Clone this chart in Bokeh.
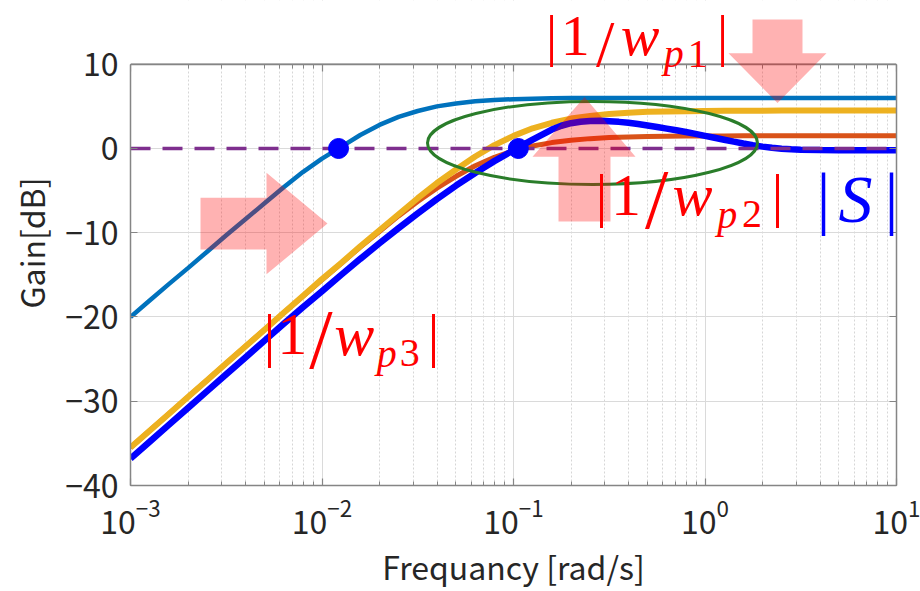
from bokeh.plotting import figure
from bokeh.models import (LogAxis, LinearAxis, LogTicker, FixedTicker, Label,
                          PolyAnnotation, BoxAnnotation, Span)
from bokeh.embed import file_html
from bokeh.resources import INLINE

# ---------------- data ----------------
freq_exp = [-3.0, -2.9, -2.8, -2.7, -2.6, -2.5, -2.4, -2.3, -2.2, -2.1,
            -2.0, -1.9, -1.8, -1.7, -1.6, -1.5, -1.4, -1.3, -1.2, -1.1,
            -1.0, -0.9, -0.8, -0.7, -0.6, -0.5, -0.4, -0.3, -0.2, -0.1,
            0.0, 0.1, 0.2, 0.3, 0.4, 0.5, 0.6, 0.7, 0.8, 0.9, 1.0]
freq = [10 ** e for e in freq_exp]

# |1/w_p1|  (light blue)
wp1_gain = [-20.0, -18.05, -16.1, -14.2, -12.25, -10.3, -8.4, -6.5, -4.6, -2.8,
            -1.2, 0.2, 1.6, 2.8, 3.75, 4.45, 5.0, 5.35, 5.6, 5.75,
            5.85, 5.9, 5.95, 5.98, 5.99, 6.0, 6.0, 6.0, 6.0, 6.0,
            6.0, 6.0, 6.0, 6.0, 6.0, 6.0, 6.0, 6.0, 6.0, 6.0, 6.0]
# |1/w_p2|  (orange)
wp2_gain = [-35.5, -33.5, -31.5, -29.5, -27.5, -25.5, -23.5, -21.5, -19.5, -17.55,
            -15.6, -13.65, -11.7, -9.85, -8.0, -6.3, -4.7, -3.3, -2.05, -1.05,
            -0.25, 0.3, 0.7, 0.98, 1.17, 1.29, 1.36, 1.41, 1.45, 1.47,
            1.48, 1.49, 1.5, 1.5, 1.5, 1.5, 1.5, 1.5, 1.5, 1.5, 1.5]
# |1/w_p3|  (yellow)
wp3_gain = [-35.5, -33.5, -31.5, -29.5, -27.5, -25.5, -23.5, -21.5, -19.5, -17.5,
            -15.5, -13.6, -11.6, -9.7, -7.8, -5.9, -4.1, -2.5, -0.95, 0.4,
            1.5, 2.4, 3.05, 3.55, 3.85, 4.1, 4.25, 4.35, 4.4, 4.43,
            4.46, 4.47, 4.48, 4.49, 4.5, 4.5, 4.5, 4.5, 4.5, 4.5, 4.5]

# |S|  (blue), sampled more densely around the peak
s_exp = [-3.0, -2.9, -2.8, -2.7, -2.6, -2.5, -2.4, -2.3, -2.2, -2.1,
         -2.0, -1.9, -1.8, -1.7, -1.6, -1.5, -1.4, -1.3, -1.2, -1.1,
         -1.0, -0.95, -0.9, -0.85, -0.8, -0.75, -0.7, -0.65, -0.6, -0.55,
         -0.5, -0.45, -0.4, -0.35, -0.3, -0.25, -0.2, -0.15, -0.1, -0.05,
         0.0, 0.05, 0.1, 0.15, 0.2, 0.25, 0.3, 0.35, 0.4, 0.45,
         0.5, 0.6, 0.7, 0.8, 0.9, 1.0]
s_freq = [10 ** e for e in s_exp]
s_gain = [-36.8, -34.8, -32.8, -30.8, -28.8, -26.8, -24.8, -22.8, -20.8, -18.85,
          -16.95, -15.0, -13.1, -11.25, -9.45, -7.7, -6.0, -4.4, -2.9, -1.5,
          -0.2, 0.42, 1.05, 1.65, 2.25, 2.7, 3.0, 3.18, 3.27, 3.28,
          3.24, 3.16, 3.05, 2.9, 2.73, 2.55, 2.36, 2.16, 1.95, 1.73,
          1.5, 1.27, 1.04, 0.81, 0.59, 0.39, 0.22, 0.08, -0.03, -0.1,
          -0.14, -0.18, -0.2, -0.2, -0.2, -0.2]

ref_freq = [1e-3, 10.0]
ref_gain = [0.0, 0.0]

cross_freq = [0.0122, 0.106]
cross_gain = [0.0, 0.0]

y_ticks = [-40, -30, -20, -10, 0, 10]
y_labels = {-40: "\u221240", -30: "\u221230", -20: "\u221220", -10: "\u221210", 0: "0", 10: "10"}

# ---------------- layout constants (reference pixels) ----------------
W, H = 920, 591
FL, FR, FT, FB = 130, 896, 64, 487
X_LO_EXP, X_HI_EXP = -3, 1
Y_LO, Y_HI = -40, 10
DB_PER_PX = (Y_HI - Y_LO) / (FB - FT)
Y_CANVAS_TOP = Y_HI + FT * DB_PER_PX   # frame extended to the top of the canvas


def fx(px):
    return 10 ** (X_LO_EXP + (px - FL) / (FR - FL) * (X_HI_EXP - X_LO_EXP))


def fy(py):
    return Y_HI - (py - FT) * DB_PER_PX


TICK_FONT = "Noto Sans CJK JP"
AX_COLOR = "#858585"
TXT_COLOR = "#262626"

p = figure(width=W, height=H, x_axis_type="log",
           x_range=(1e-3, 10), y_range=(Y_LO, Y_CANVAS_TOP),
           output_backend="svg", toolbar_location=None,
           min_border_left=FL, min_border_right=W - FR,
           min_border_top=0, min_border_bottom=H - FB)
p.outline_line_color = None
p.background_fill_color = "white"
p.border_fill_color = "white"

xt = LogTicker(num_minor_ticks=10)
yt = FixedTicker(ticks=y_ticks, minor_ticks=[])


def style_axis(ax, labels=True):
    ax.axis_line_color = AX_COLOR
    ax.axis_line_width = 1.5
    ax.major_tick_line_color = AX_COLOR
    ax.minor_tick_line_color = AX_COLOR
    ax.major_tick_line_width = 1.2
    ax.minor_tick_line_width = 1.0
    ax.major_tick_in = 7
    ax.major_tick_out = 0
    ax.minor_tick_in = 4
    ax.minor_tick_out = 0
    if labels:
        ax.major_label_text_font = TICK_FONT
        ax.major_label_text_font_size = "32px"
        ax.major_label_text_color = TXT_COLOR
        ax.axis_label_text_font = TICK_FONT
        ax.axis_label_text_font_size = "32px"
        ax.axis_label_text_font_style = "normal"
        ax.axis_label_text_color = TXT_COLOR
    else:
        ax.major_label_text_font_size = "8px"
        ax.major_label_text_alpha = 0.0
        ax.major_label_standoff = 0


p.xaxis.ticker = xt
p.yaxis.ticker = yt
p.yaxis.bounds = (Y_LO, Y_HI)
p.yaxis.major_label_overrides = y_labels
style_axis(p.xaxis[0])
style_axis(p.yaxis[0])
p.xaxis.axis_label = "Frequancy [rad/s]"
p.yaxis.axis_label = "Gain[dB]"
p.xaxis.major_label_standoff = 14
p.yaxis.major_label_standoff = 12
p.xaxis.axis_label_standoff = 6
p.yaxis.axis_label_standoff = 8

# box: top axis at the 10 dB line, right axis limited to the data range
top_ax = LogAxis(ticker=xt, fixed_location=Y_HI)
style_axis(top_ax, labels=False)
p.add_layout(top_ax, "above")
right_ax = LinearAxis(ticker=yt, bounds=(Y_LO, Y_HI))
style_axis(right_ax, labels=False)
p.add_layout(right_ax, "right")

p.xgrid.ticker = xt
p.ygrid.ticker = yt
p.xgrid.grid_line_color = "#DADADA"
p.ygrid.grid_line_color = "#DADADA"
p.xgrid.grid_line_width = 1
p.ygrid.grid_line_width = 1
p.xgrid.minor_grid_line_color = "#D6D6D6"
p.xgrid.minor_grid_line_dash = "2 2"
p.xgrid.minor_grid_line_width = 1

# white mask over the grid above the axes box
p.add_layout(BoxAnnotation(bottom=Y_HI, fill_color="white", fill_alpha=1.0,
                           line_color=None, level="underlay"))
# top edge of the axes box
p.add_layout(Span(location=Y_HI, dimension="width", line_color=AX_COLOR,
                  line_width=1.5, level="underlay"))

# ---------------- curves ----------------
p.line(freq, wp1_gain, line_color="#0072BD", line_width=4.5)
p.line(freq, wp2_gain, line_color="#D95319", line_width=5)
p.line(freq, wp3_gain, line_color="#EDB120", line_width=6)
p.line(s_freq, s_gain, line_color="#0000FF", line_width=6.5)
p.line(ref_freq, ref_gain, line_color="#7E2F8E", line_width=3.5, line_dash="20 12")
p.scatter(cross_freq, cross_gain, size=20, fill_color="#0000FF", line_color="#0000FF")

# green ellipse highlight
p.ellipse(x=[fx(592)], y=[fy(143)], width=330, height=83,
          width_units="screen", height_units="screen",
          fill_color=None, line_color="#2A7D2A", line_width=3)

# ---------------- pink arrows ----------------
arrows = [
    [(200, 198), (266, 198), (266, 173), (327, 224), (266, 275), (266, 250), (200, 250)],
    [(558, 222), (610, 222), (610, 157), (635, 157), (584, 97), (532, 157), (558, 157)],
    [(752, 19), (802, 19), (802, 53), (826, 53), (777, 103), (728, 53), (752, 53)],
]
for pts in arrows:
    p.add_layout(PolyAnnotation(xs=[fx(a) for a, b in pts], ys=[fy(b) for a, b in pts],
                                fill_color="#FF0000", fill_alpha=0.3, line_color=None))

# ---------------- math-style labels ----------------
SERIF = "Liberation Serif, serif"
BASE_SHIFT = 0.44   # measured offset of the rendered baseline, in em


def put(txt, px, py, size, style, color):
    p.add_layout(Label(x=fx(px), y=fy(py - BASE_SHIFT * size), text=txt, text_font=SERIF,
                       text_font_size=f"{size}px", text_font_style=style,
                       text_color=color, text_align="center",
                       text_baseline="alphabetic"))


def weight_label(x0, base, sub, total, main=60, slash=84, slash_dy=15, color="#FF0000"):
    k = total / 173.0
    put("|", x0 + 1, base, main, "normal", color)
    put("1", x0 + 25 * k, base, main, "normal", color)
    put("/", x0 + 55 * k, base + slash_dy, slash, "normal", color)
    put("w", x0 + 90 * k, base, main, "italic", color)
    put("p", x0 + 124 * k, base + 10, 40, "italic", color)
    put(sub, x0 + 148 * k, base + 10, 40, "normal", color)
    put("|", x0 + total, base, main, "normal", color)


weight_label(550, 61, "1", 172, main=58, slash=66, slash_dy=11)
weight_label(600, 222, "2", 177)
weight_label(268, 362, "3", 165)

put("|", 823, 229, 70, "normal", "#0000FF")
put("S", 855, 229, 68, "italic", "#0000FF")
put("|", 891, 229, 70, "normal", "#0000FF")

open("out.html", "w").write(file_html(p, INLINE))
